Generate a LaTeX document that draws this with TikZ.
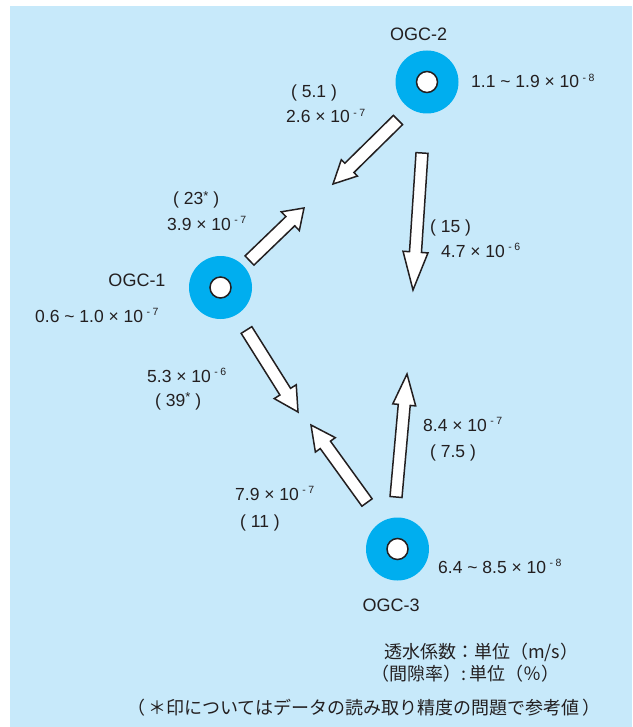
\documentclass[tikz,border=0pt]{standalone}
\usepackage{fontspec}
\setmainfont{Liberation Sans}
\newfontfamily\jpfont{Noto Sans CJK JP}
\usetikzlibrary{calc}
\definecolor{bgblue}{RGB}{199,233,250}
\definecolor{wellcyan}{RGB}{0,174,239}
\definecolor{ink}{RGB}{35,31,32}
\newcommand\ex[1]{\hspace{3.5pt}\raisebox{6.5pt}{\fontsize{10.5}{10}\selectfont -\hspace{2.5pt}#1}}
\newcommand\st{\raisebox{5pt}{\fontsize{13}{13}\selectfont *}}
\newcommand\blockarrow[5]{%
  \coordinate (hb) at ($(#2)!#5!(#1)$);
  \draw[barrow] ($(#1)!#3!90:(#2)$) -- ($(hb)!#3!90:(#2)$) -- ($(hb)!#4!90:(#2)$) -- (#2)
    -- ($(hb)!#4!-90:(#2)$) -- ($(hb)!#3!-90:(#2)$) -- ($(#1)!#3!-90:(#2)$) -- cycle;
}
\begin{document}
\begin{tikzpicture}[x=1pt,y=-1pt,
  lbl/.style={inner sep=0, text=ink, font=\fontsize{17.5}{20}\selectfont},
  ogc/.style={inner sep=0, text=ink, font=\fontsize{18}{21}\selectfont},
  jlbl/.style={inner sep=0, text=ink, font=\jpfont\fontsize{18}{21}\selectfont},
  wellouter/.style={circle, fill=wellcyan, minimum size=63pt, inner sep=0},
  wellinner/.style={circle, fill=white, draw=ink, line width=1.5pt, minimum size=21pt, inner sep=0},
  barrow/.style={fill=white, draw=ink, line width=1.5pt, line join=miter}]
\useasboundingbox (0,0) rectangle (632,727);
\fill[white] (0,0) rectangle (632,727);
\fill[bgblue] (10,6) rectangle (632,727);

% wells
\node[wellouter] (w2) at (427,82) {};
\node[wellinner] (h2) at (w2) {};
\node[wellouter] (w1) at (220.5,287.5) {};
\node[wellinner] (h1) at (w1) {};
\node[wellouter] (w3) at (397.5,549) {};
\node[wellinner] (h3) at (w3) {};

% arrow ends
\coordinate (a1t) at (398,120);   \coordinate (a1h) at (333,184);
\coordinate (a2t) at (249.5,260.5); \coordinate (a2h) at (304,208);
\coordinate (a3t) at (422,153);   \coordinate (a3h) at (413,290);
\coordinate (a4t) at (246.5,330); \coordinate (a4h) at (298,412);
\coordinate (a5t) at (367,502.5); \coordinate (a5h) at (311,425);
\coordinate (a6t) at (396,497);   \coordinate (a6h) at (407,374);

\blockarrow{a1t}{a1h}{6.5pt}{11.5pt}{23pt}
\blockarrow{a2t}{a2h}{6.4pt}{13pt}{19pt}
\blockarrow{a3t}{a3h}{6pt}{12.5pt}{38pt}
\blockarrow{a4t}{a4h}{6.3pt}{13pt}{24pt}
\blockarrow{a5t}{a5h}{6.3pt}{12.3pt}{24.5pt}
\blockarrow{a6t}{a6h}{6pt}{11.5pt}{31pt}

% labels
\node[ogc, anchor=base] (n2) at (418.5,41) {OGC-2};
\node[lbl, anchor=base west] (k2) at (471,88) {1.1 \textasciitilde{} 1.9 × 10\ex{8}};
\node[ogc, anchor=base] (n1) at (137,286) {OGC-1};
\node[lbl, anchor=base west] (k1) at (35,322) {0.6 \textasciitilde{} 1.0 × 10\ex{7}};
\node[ogc, anchor=base] (n3) at (391,611) {OGC-3};
\node[lbl, anchor=base west] (k3) at (438,573) {6.4 \textasciitilde{} 8.5 × 10\ex{8}};

\node[lbl, anchor=base west] (p21a) at (291,98) {( 5.1 )};
\node[lbl, anchor=base west] (p21b) at (286,123) {2.6 × 10\ex{7}};
\node[lbl, anchor=base west] (p12a) at (173,205) {( 23\st{} )};
\node[lbl, anchor=base west] (p12b) at (167,230) {3.9 × 10\ex{7}};
\node[lbl, anchor=base west] (p2da) at (430,232) {( 15 )};
\node[lbl, anchor=base west] (p2db) at (441,257) {4.7 × 10\ex{6}};
\node[lbl, anchor=base west] (p13a) at (147,382) {5.3 × 10\ex{6}};
\node[lbl, anchor=base west] (p13b) at (155,406) {( 39\st{} )};
\node[lbl, anchor=base west] (p3ua) at (423,431) {8.4 × 10\ex{7}};
\node[lbl, anchor=base west] (p3ub) at (430,457) {( 7.5 )};
\node[lbl, anchor=base west] (p3la) at (235,500) {7.9 × 10\ex{7}};
\node[lbl, anchor=base west] (p3lb) at (240,527) {( 11 )};

% legend
\node[jlbl, anchor=base west] (u1) at (384,658) {透水係数：単位（m/s）};
\node[jlbl, anchor=base west] (u2) at (371,680) {（間隙率）:\,単位（％）};
\node[jlbl, anchor=base] (note) at (364,714) {（\,＊印についてはデータの読み取り精度の問題で参考値\,）};
\end{tikzpicture}
\end{document}
